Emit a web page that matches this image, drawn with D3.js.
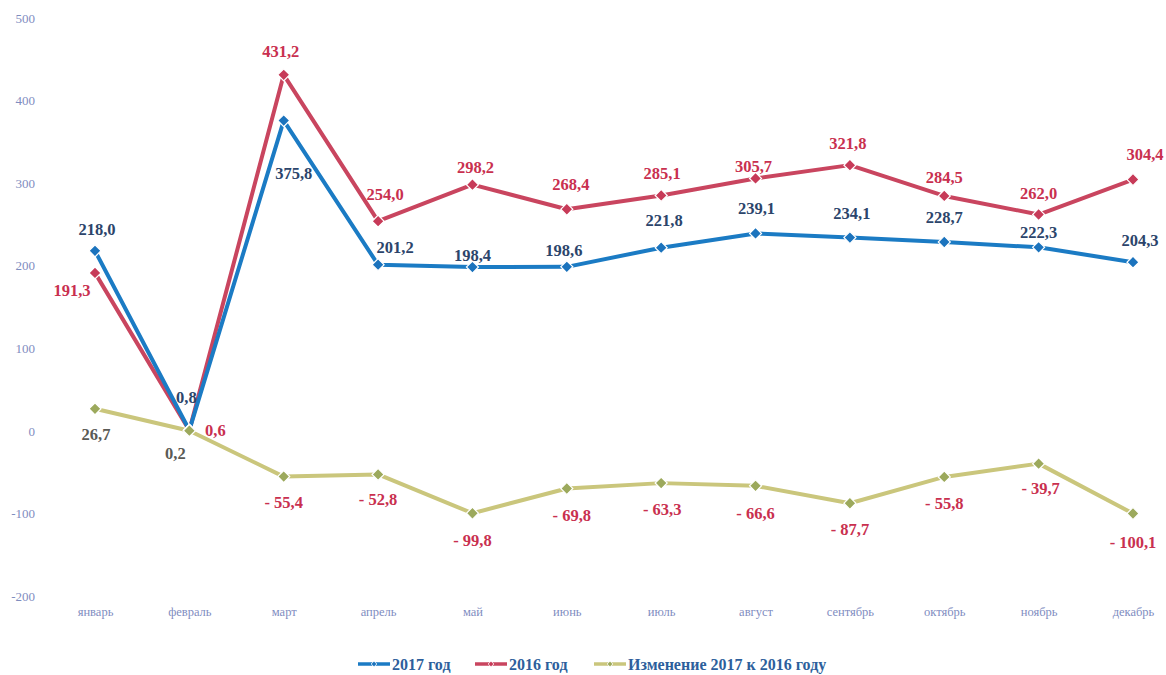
<!DOCTYPE html>
<html>
<head>
<meta charset="utf-8">
<script src="https://cdn.jsdelivr.net/npm/d3@7"></script>
<style>
  body { margin: 0; background: #fff; }
  svg { display: block; font-family: "Liberation Serif", "DejaVu Serif", serif; }
</style>
</head>
<body>
<div id="chart"></div>
<script>
// Months (x categories)
const months = ['январь', 'февраль', 'март', 'апрель', 'май', 'июнь',
  'июль', 'август', 'сентябрь', 'октябрь', 'ноябрь', 'декабрь'];

// Series values
const values2017 = [218.0, 0.8, 375.8, 201.2, 198.4, 198.6, 221.8, 239.1, 234.1, 228.7, 222.3, 204.3];
const values2016 = [191.3, 0.6, 431.2, 254.0, 298.2, 268.4, 285.1, 305.7, 321.8, 284.5, 262.0, 304.4];
const valuesChange = [26.7, 0.2, -55.4, -52.8, -99.8, -69.8, -63.3, -66.6, -87.7, -55.8, -39.7, -100.1];

// Y tick labels
const yTicks = [500, 400, 300, 200, 100, 0, -100, -200];

// Legend labels
const seriesNames = ['2017 год', '2016 год', 'Изменение 2017 к 2016 году'];

// label placement (dx, dy from the marker), layout only
const offs2017 = [[2, -22], [-3, -33], [10, 53], [17, -17], [0, -12], [-3, -17], [3, -27], [1, -25], [2, -24], [0, -25], [0, -15], [7, -22]];
const offs2016 = [[-23, 17], [26, 0], [-3, -24], [7, -27], [3, -17], [4, -25], [1, -22], [-2, -12], [-2, -22], [0, -19], [0, -21], [12, -25]];
const offsChange = [[1, 25], [-14, 23], [0, 26], [0, 25], [0, 27], [5, 27], [1, 26], [0, 27], [0, 26], [0, 26], [2, 25], [0, 29]];

const width = 1166, height = 675;

const svg = d3.select('#chart')
  .append('svg')
  .attr('width', width)
  .attr('height', height);

// Set the ranges
const x = d3.scalePoint().domain(months).range([95, 1133]);
const y = d3.scaleLinear().domain([-200, 500]).range([596, 18]);

// Y axis (labels only)
const yAxis = d3.axisLeft(y).tickValues(yTicks).tickSize(0).tickPadding(0)
  .tickFormat(d => String(d));
svg.append('g')
  .attr('class', 'y axis')
  .attr('transform', 'translate(35,0)')
  .call(yAxis)
  .call(g => g.select('.domain').remove())
  .selectAll('text')
  .attr('font-family', '"Liberation Serif", serif')
  .attr('font-size', 13)
  .attr('fill', '#7f8dbf');

// X axis (labels only)
const xAxis = d3.axisBottom(x).tickSize(0).tickPadding(0);
svg.append('g')
  .attr('class', 'x axis')
  .attr('transform', 'translate(0,607)')
  .call(xAxis)
  .call(g => g.select('.domain').remove())
  .selectAll('text')
  .attr('font-family', '"Liberation Serif", serif')
  .attr('font-size', 12.5)
  .attr('fill', '#7f8dbf');

const series = [
  {name: seriesNames[0], values: values2017, line: '#1b7bc4', marker: '#1b73bd', label: '#2c456b', offs: offs2017},
  {name: seriesNames[1], values: values2016, line: '#c9455f', marker: '#c73a58', label: '#c9304f', offs: offs2016},
  {name: seriesNames[2], values: valuesChange, line: '#cac67c', marker: '#9ca95c', label: '#c9304f', offs: offsChange}
];

const valueline = d3.line()
  .x((d, i) => x(months[i]))
  .y(d => y(d));

const diamond = d3.symbol().type(d3.symbolSquare).size(72);

const fmt = v => {
  const s = Math.abs(v).toFixed(1).replace('.', ',');
  return v < 0 ? '- ' + s : s;
};

// Draw the lines first (change line at the back)
series.slice().reverse().forEach(s => {
  svg.append('path')
    .attr('fill', 'none')
    .attr('stroke', s.line)
    .attr('stroke-width', 4)
    .attr('stroke-linejoin', 'round')
    .attr('d', valueline(s.values));
});

// Markers and data labels
series.forEach(s => {
  const g = svg.append('g');
  g.selectAll('path')
    .data(s.values)
    .enter()
    .append('path')
    .attr('d', diamond)
    .attr('transform', (d, i) => `translate(${x(months[i])},${y(d)}) rotate(45)`)
    .attr('fill', s.marker)
    .attr('stroke', '#fff')
    .attr('stroke-width', 1.2);

  g.selectAll('text')
    .data(s.values)
    .enter()
    .append('text')
    .attr('x', (d, i) => x(months[i]) + s.offs[i][0])
    .attr('y', (d, i) => y(d) + s.offs[i][1])
    .attr('dy', '0.35em')
    .attr('text-anchor', 'middle')
    .attr('font-size', 16.5)
    .attr('font-weight', 'bold')
    .attr('fill', d => (s === series[2] && d > 0) ? '#5a5a55' : s.label)
    .text(d => fmt(d));
});

// Legend
const legendX = [358, 475, 594];
series.forEach((s, i) => {
  const lg = svg.append('g').attr('transform', `translate(${legendX[i]},664)`);
  lg.append('line')
    .attr('x1', 0).attr('x2', 32)
    .attr('stroke', s.line)
    .attr('stroke-width', 3.5);
  lg.append('path')
    .attr('d', d3.symbol().type(d3.symbolSquare).size(16))
    .attr('transform', 'translate(16,0) rotate(45)')
    .attr('fill', s.marker)
    .attr('stroke', '#fff')
    .attr('stroke-width', 0.8);
  lg.append('text')
    .attr('x', 34)
    .attr('dy', '0.35em')
    .attr('font-size', 16)
    .attr('font-weight', 'bold')
    .attr('fill', '#2d5f9c')
    .text(s.name);
});
</script>
</body>
</html>
